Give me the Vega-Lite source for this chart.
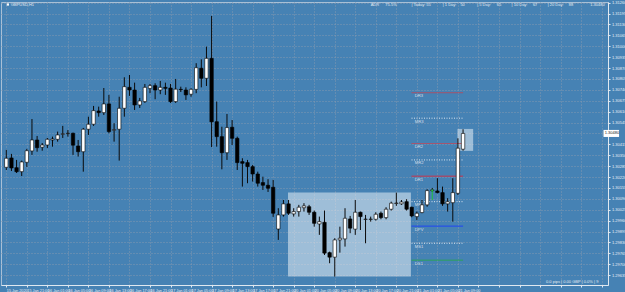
{
  "$schema": "https://vega.github.io/schema/vega-lite/v6.json",
  "width": 607,
  "height": 283,
  "autosize": "none",
  "padding": {"left": 1, "top": 2, "right": 17, "bottom": 7},
  "background": "#4682b4",
  "config": {
    "view": {"stroke": "#a9c0d6", "strokeWidth": 1, "fill": "#4682b4"},
    "font": "Liberation Sans",
    "axis": {
      "labelOverlap": false, "labelFlush": false, "labelBound": false, "title": null, "tickCount": 200,
      "labelColor": "#e8eef4", "labelFontSize": 4,
      "tickSize": 2, "tickColor": "#dfe8f0", "domainColor": "#dfe8f0",
      "grid": true, "gridColor": "#8399b0", "gridDash": [1, 2], "gridWidth": 1
    },
    "axisX": {"labelAlign": "left", "labelBaseline": "top", "labelPadding": 1, "labelFontSize": 3.8},
    "axisY": {"labelAlign": "left", "labelBaseline": "middle", "labelPadding": 1.5}
  },
  "datasets": {
    "candles": [
      {"i":0,"o":1.30278,"h":1.30382,"l":1.30262,"c":1.30332},
      {"i":1,"o":1.30334,"h":1.30358,"l":1.30256,"c":1.30274},
      {"i":2,"o":1.30276,"h":1.30322,"l":1.30244,"c":1.30252},
      {"i":3,"o":1.30252,"h":1.30318,"l":1.30226,"c":1.30310},
      {"i":4,"o":1.30308,"h":1.30388,"l":1.30280,"c":1.30377},
      {"i":5,"o":1.30376,"h":1.30566,"l":1.30352,"c":1.30441},
      {"i":6,"o":1.30441,"h":1.30465,"l":1.30371,"c":1.30395},
      {"i":7,"o":1.30398,"h":1.30423,"l":1.30377,"c":1.30411},
      {"i":8,"o":1.30411,"h":1.30453,"l":1.30393,"c":1.30445},
      {"i":9,"o":1.30441,"h":1.30461,"l":1.30401,"c":1.30447},
      {"i":10,"o":1.30445,"h":1.30491,"l":1.30431,"c":1.30471},
      {"i":11,"o":1.30475,"h":1.30525,"l":1.30453,"c":1.30478},
      {"i":12,"o":1.30479,"h":1.30500,"l":1.30461,"c":1.30481},
      {"i":13,"o":1.30481,"h":1.30485,"l":1.30352,"c":1.30410},
      {"i":14,"o":1.30405,"h":1.30441,"l":1.30342,"c":1.30371},
      {"i":15,"o":1.30371,"h":1.30513,"l":1.30252,"c":1.30505},
      {"i":16,"o":1.30505,"h":1.30580,"l":1.30471,"c":1.30535},
      {"i":17,"o":1.30535,"h":1.30644,"l":1.30525,"c":1.30616},
      {"i":18,"o":1.30614,"h":1.30640,"l":1.30580,"c":1.30604},
      {"i":19,"o":1.30604,"h":1.30751,"l":1.30590,"c":1.30656},
      {"i":20,"o":1.30656,"h":1.30710,"l":1.30481,"c":1.30491},
      {"i":21,"o":1.30499,"h":1.30541,"l":1.30431,"c":1.30503},
      {"i":22,"o":1.30505,"h":1.30699,"l":1.30318,"c":1.30630},
      {"i":23,"o":1.30630,"h":1.30815,"l":1.30580,"c":1.30759},
      {"i":24,"o":1.30755,"h":1.30829,"l":1.30704,"c":1.30739},
      {"i":25,"o":1.30739,"h":1.30783,"l":1.30620,"c":1.30650},
      {"i":26,"o":1.30650,"h":1.30692,"l":1.30632,"c":1.30674},
      {"i":27,"o":1.30670,"h":1.30775,"l":1.30662,"c":1.30755},
      {"i":28,"o":1.30749,"h":1.30775,"l":1.30720,"c":1.30765},
      {"i":29,"o":1.30765,"h":1.30779,"l":1.30684,"c":1.30739},
      {"i":30,"o":1.30739,"h":1.30793,"l":1.30714,"c":1.30755},
      {"i":31,"o":1.30755,"h":1.30783,"l":1.30710,"c":1.30749},
      {"i":32,"o":1.30751,"h":1.30775,"l":1.30662,"c":1.30670},
      {"i":33,"o":1.30670,"h":1.30805,"l":1.30662,"c":1.30744},
      {"i":34,"o":1.30743,"h":1.30759,"l":1.30727,"c":1.30741},
      {"i":35,"o":1.30739,"h":1.30755,"l":1.30680,"c":1.30710},
      {"i":36,"o":1.30714,"h":1.30749,"l":1.30699,"c":1.30743},
      {"i":37,"o":1.30743,"h":1.30899,"l":1.30720,"c":1.30872},
      {"i":38,"o":1.30869,"h":1.30922,"l":1.30755,"c":1.30809},
      {"i":39,"o":1.30809,"h":1.30998,"l":1.30763,"c":1.30928},
      {"i":40,"o":1.30928,"h":1.31181,"l":1.30399,"c":1.30549},
      {"i":41,"o":1.30550,"h":1.30670,"l":1.30401,"c":1.30461},
      {"i":42,"o":1.30461,"h":1.30520,"l":1.30266,"c":1.30365},
      {"i":43,"o":1.30365,"h":1.30596,"l":1.30322,"c":1.30515},
      {"i":44,"o":1.30517,"h":1.30560,"l":1.30411,"c":1.30451},
      {"i":45,"o":1.30451,"h":1.30461,"l":1.30262,"c":1.30306},
      {"i":46,"o":1.30312,"h":1.30332,"l":1.30163,"c":1.30302},
      {"i":47,"o":1.30306,"h":1.30322,"l":1.30183,"c":1.30282},
      {"i":48,"o":1.30282,"h":1.30292,"l":1.30193,"c":1.30238},
      {"i":49,"o":1.30238,"h":1.30252,"l":1.30163,"c":1.30183},
      {"i":50,"o":1.30187,"h":1.30222,"l":1.30143,"c":1.30171},
      {"i":51,"o":1.30171,"h":1.30207,"l":1.30131,"c":1.30153},
      {"i":52,"o":1.30159,"h":1.30203,"l":1.29982,"c":1.30004},
      {"i":53,"o":1.29910,"h":1.30034,"l":1.29845,"c":1.29994},
      {"i":54,"o":1.29994,"h":1.30083,"l":1.29984,"c":1.30060},
      {"i":55,"o":1.30060,"h":1.30083,"l":1.29994,"c":1.30004},
      {"i":56,"o":1.30000,"h":1.30034,"l":1.29984,"c":1.30014},
      {"i":57,"o":1.30014,"h":1.30054,"l":1.29984,"c":1.30040},
      {"i":58,"o":1.30037,"h":1.30064,"l":1.30014,"c":1.30048},
      {"i":59,"o":1.30043,"h":1.30054,"l":1.29994,"c":1.30010},
      {"i":60,"o":1.30010,"h":1.30020,"l":1.29924,"c":1.29944},
      {"i":61,"o":1.29940,"h":1.29984,"l":1.29875,"c":1.29954},
      {"i":62,"o":1.29950,"h":1.30020,"l":1.29755,"c":1.29766},
      {"i":63,"o":1.29769,"h":1.29775,"l":1.29706,"c":1.29742},
      {"i":64,"o":1.29742,"h":1.29855,"l":1.29626,"c":1.29845},
      {"i":65,"o":1.29845,"h":1.29924,"l":1.29769,"c":1.29855},
      {"i":66,"o":1.29851,"h":1.30034,"l":1.29805,"c":1.29974},
      {"i":67,"o":1.29970,"h":1.29988,"l":1.29885,"c":1.29915},
      {"i":68,"o":1.29909,"h":1.30083,"l":1.29875,"c":1.30010},
      {"i":69,"o":1.30010,"h":1.30014,"l":1.29904,"c":1.29984},
      {"i":70,"o":1.29967,"h":1.29994,"l":1.29825,"c":1.29969},
      {"i":71,"o":1.29967,"h":1.29984,"l":1.29954,"c":1.29969},
      {"i":72,"o":1.29968,"h":1.30010,"l":1.29960,"c":1.29998},
      {"i":73,"o":1.30004,"h":1.30014,"l":1.29968,"c":1.29978},
      {"i":74,"o":1.29978,"h":1.30040,"l":1.29968,"c":1.30028},
      {"i":75,"o":1.30028,"h":1.30073,"l":1.30020,"c":1.30064},
      {"i":76,"o":1.30062,"h":1.30127,"l":1.30048,"c":1.30065},
      {"i":77,"o":1.30060,"h":1.30083,"l":1.30054,"c":1.30071},
      {"i":78,"o":1.30073,"h":1.30088,"l":1.30020,"c":1.30028},
      {"i":79,"o":1.30040,"h":1.30043,"l":1.29980,"c":1.29988},
      {"i":80,"o":1.29984,"h":1.30014,"l":1.29964,"c":1.30004},
      {"i":81,"o":1.30008,"h":1.30083,"l":1.30004,"c":1.30054},
      {"i":82,"o":1.30054,"h":1.30147,"l":1.30043,"c":1.30139},
      {"i":83,"o":1.30139,"h":1.30155,"l":1.30131,"c":1.30143},
      {"i":84,"o":1.30137,"h":1.30213,"l":1.30123,"c":1.30127},
      {"i":85,"o":1.30127,"h":1.30163,"l":1.30048,"c":1.30060},
      {"i":86,"o":1.30060,"h":1.30094,"l":1.30014,"c":1.30073},
      {"i":87,"o":1.30067,"h":1.30213,"l":1.29954,"c":1.30127},
      {"i":88,"o":1.30123,"h":1.30451,"l":1.30113,"c":1.30392},
      {"i":89,"o":1.30386,"h":1.30505,"l":1.30377,"c":1.30480}
    ],
    "boxes": [
      {"x0": 54.89, "x1": 78.84, "p0": 1.29626, "p1": 1.30127},
      {"x0": 87.91, "x1": 90.97, "p0": 1.30376, "p1": 1.30507}
    ],
    "levels": [
      {"name": "DR3", "p": 1.30723, "from": 78.96, "to": 89, "lx": 79.6},
      {"name": "MR3", "p": 1.30571, "from": 78.96, "to": 89, "lx": 79.6},
      {"name": "DR2", "p": 1.30420, "from": 78.96, "to": 89, "lx": 79.6},
      {"name": "MR2", "p": 1.30322, "from": 78.96, "to": 89, "lx": 79.6},
      {"name": "DR1", "p": 1.30225, "from": 78.96, "to": 89, "lx": 79.6},
      {"name": "MR1", "p": 1.30073, "from": 78.96, "to": 89, "lx": 79.6},
      {"name": "DPV", "p": 1.29927, "from": 78.96, "to": 89, "lx": 79.6},
      {"name": "MS1", "p": 1.29825, "from": 78.96, "to": 89, "lx": 79.6},
      {"name": "DS1", "p": 1.29724, "from": 78.96, "to": 89, "lx": 79.6}
    ],
    "arrow": [{"i": 83, "p0": 1.30083, "p1": 1.30143}],
    "texts": [
      {"i": 0.9, "p": 1.31249, "t": "GBPUSD,H1"},
      {"i": 71.0, "p": 1.31249, "t": "ADR"},
      {"i": 73.86, "p": 1.31249, "t": "75.5%"},
      {"i": 78.96, "p": 1.31249, "t": "| Today:"},
      {"i": 81.83, "p": 1.31249, "t": "55"},
      {"i": 85.03, "p": 1.31249, "t": "| 1 Day:"},
      {"i": 88.48, "p": 1.31249, "t": "50"},
      {"i": 91.74, "p": 1.31249, "t": "| 5 Day:"},
      {"i": 95.57, "p": 1.31249, "t": "65"},
      {"i": 98.45, "p": 1.31249, "t": "| 10 Day:"},
      {"i": 102.61, "p": 1.31249, "t": "67"},
      {"i": 105.48, "p": 1.31249, "t": "| 20 Day:"},
      {"i": 109.62, "p": 1.31249, "t": "88"},
      {"i": 113.78, "p": 1.31249, "t": "1.30480"},
      {"i": 105.16, "p": 1.29596, "t": "0.0 pips | 0.00 GBP | 0.0% | 9"}
    ],
    "icon": [{"i": 0.3, "p": 1.31249}],
    "price": [{"x0": 116.37, "x1": 119.4, "p0": 1.30459, "p1": 1.30501, "i": 116.6, "p": 1.30480, "t": "1.30480"}]
  },
  "layer": [
    {
      "data": {"name": "boxes"},
      "mark": {"type": "rect", "fill": "#ffffff", "fillOpacity": 0.48},
      "encoding": {
        "x": {"field": "x0", "type": "quantitative", "title": null,
          "scale": {"domain": [-0.06, 116.27], "nice": false, "zero": false},
          "axis": {
            "orient": "bottom",
            "tickCount": 200,
            "values": [0,4,8,12,16,20,24,28,32,36,40,44,48,52,56,60,64,68,72,76,80,84,88,92,96,100,104,108,112,116],
            "labelExpr": "datum.value > 88 ? '' : ['15 Jan 2020','15 Jan 21:00','16 Jan 01:00','16 Jan 05:00','16 Jan 09:00','16 Jan 13:00','16 Jan 17:00','16 Jan 21:00','17 Jan 01:00','17 Jan 05:00','17 Jan 09:00','17 Jan 13:00','17 Jan 17:00','17 Jan 21:00','20 Jan 01:00','20 Jan 05:00','20 Jan 09:00','20 Jan 13:00','20 Jan 17:00','20 Jan 21:00','21 Jan 01:00','21 Jan 05:00','21 Jan 09:00'][round(datum.value/4)]",
            "labelOverlap": false
          }
        },
        "x2": {"field": "x1"},
        "y": {"field": "p0", "type": "quantitative", "title": null,
          "scale": {"domain": [1.29576, 1.31264], "nice": false, "zero": false},
          "axis": {
            "orient": "right",
            "tickCount": 200,
            "values": [1.3126,1.31195,1.3113,1.31065,1.31,1.30935,1.3087,1.30805,1.3074,1.30675,1.3061,1.30545,1.3048,1.30415,1.3035,1.30285,1.3022,1.30155,1.3009,1.30025,1.2996,1.29895,1.2983,1.29765,1.297,1.29635],
            "labelExpr": "abs(datum.value - 1.3048) < 0.00001 ? '' : format(datum.value, '.5f')",
            "labelOverlap": false
          }
        },
        "y2": {"field": "p1"}
      }
    },
    {
      "data": {"name": "levels"},
      "mark": {"type": "rule", "strokeWidth": 1},
      "encoding": {
        "x": {"field": "from", "type": "quantitative", "title": null},
        "x2": {"field": "to"},
        "y": {"field": "p", "type": "quantitative", "title": null, "axis": {"orient": "right"}},
        "color": {"field": "name", "type": "nominal", "legend": null,
          "scale": {"domain": ["DR3","MR3","DR2","MR2","DR1","MR1","DPV","MS1","DS1"],
                    "range": ["#b84a5c","#dce6f0","#c0485a","#dce6f0","#e0283c","#dce6f0","#1a3cff","#dce6f0","#2aa84a"]}},
        "strokeDash": {"field": "name", "type": "nominal", "legend": null,
          "scale": {"domain": ["DR3","MR3","DR2","MR2","DR1","MR1","DPV","MS1","DS1"],
                    "range": [[1,0],[1,1.5],[1,0],[1,1.5],[1,0],[1,1.5],[1,0],[1,1.5],[1,0]]}}
      }
    },
    {
      "data": {"name": "levels"},
      "mark": {"type": "text", "align": "left", "baseline": "middle", "dy": 3.5, "fontSize": 4.2, "color": "#d4dfea"},
      "encoding": {
        "x": {"field": "lx", "type": "quantitative", "title": null},
        "y": {"field": "p", "type": "quantitative", "title": null, "axis": {"orient": "right"}},
        "text": {"field": "name"}
      }
    },
    {
      "data": {"name": "candles"},
      "mark": {"type": "rule", "strokeWidth": 1, "color": "#0a0a0a"},
      "encoding": {
        "x": {"field": "i", "type": "quantitative", "title": null},
        "y": {"field": "l", "type": "quantitative", "title": null, "axis": {"orient": "right"}},
        "y2": {"field": "h"}
      }
    },
    {
      "data": {"name": "candles"},
      "mark": {"type": "bar", "size": 3.4, "stroke": "#000000", "strokeWidth": 0.6},
      "encoding": {
        "x": {"field": "i", "type": "quantitative", "title": null},
        "y": {"field": "o", "type": "quantitative", "title": null, "axis": {"orient": "right"}},
        "y2": {"field": "c"},
        "fill": {"condition": {"test": "datum.c >= datum.o", "value": "#ffffff"}, "value": "#000000"}
      }
    },
    {
      "data": {"name": "arrow"},
      "mark": {"type": "rule", "strokeWidth": 1, "color": "#22c040"},
      "encoding": {
        "x": {"field": "i", "type": "quantitative", "title": null},
        "y": {"field": "p0", "type": "quantitative", "title": null, "axis": {"orient": "right"}},
        "y2": {"field": "p1"}
      }
    },
    {
      "data": {"name": "arrow"},
      "mark": {"type": "point", "shape": "triangle-up", "size": 6, "filled": true, "color": "#22c040", "opacity": 1},
      "encoding": {
        "x": {"field": "i", "type": "quantitative", "title": null},
        "y": {"field": "p1", "type": "quantitative", "title": null, "axis": {"orient": "right"}}
      }
    },
    {
      "data": {"name": "texts"},
      "mark": {"type": "text", "align": "left", "baseline": "middle", "fontSize": 4, "color": "#e4ebf2"},
      "encoding": {
        "x": {"field": "i", "type": "quantitative", "title": null},
        "y": {"field": "p", "type": "quantitative", "title": null, "axis": {"orient": "right"}},
        "text": {"field": "t"}
      }
    },
    {
      "data": {"name": "icon"},
      "mark": {"type": "point", "shape": "square", "size": 5, "filled": true, "color": "#ffffff", "opacity": 1},
      "encoding": {
        "x": {"field": "i", "type": "quantitative", "title": null},
        "y": {"field": "p", "type": "quantitative", "title": null, "axis": {"orient": "right"}}
      }
    },
    {
      "data": {"name": "price"},
      "mark": {"type": "rect", "fill": "#ffffff"},
      "encoding": {
        "x": {"field": "x0", "type": "quantitative", "title": null},
        "x2": {"field": "x1"},
        "y": {"field": "p0", "type": "quantitative", "title": null, "axis": {"orient": "right"}},
        "y2": {"field": "p1"}
      }
    },
    {
      "data": {"name": "price"},
      "mark": {"type": "text", "align": "left", "baseline": "middle", "fontSize": 4, "color": "#1a1a1a"},
      "encoding": {
        "x": {"field": "i", "type": "quantitative", "title": null},
        "y": {"field": "p", "type": "quantitative", "title": null, "axis": {"orient": "right"}},
        "text": {"field": "t"}
      }
    }
  ]
}
